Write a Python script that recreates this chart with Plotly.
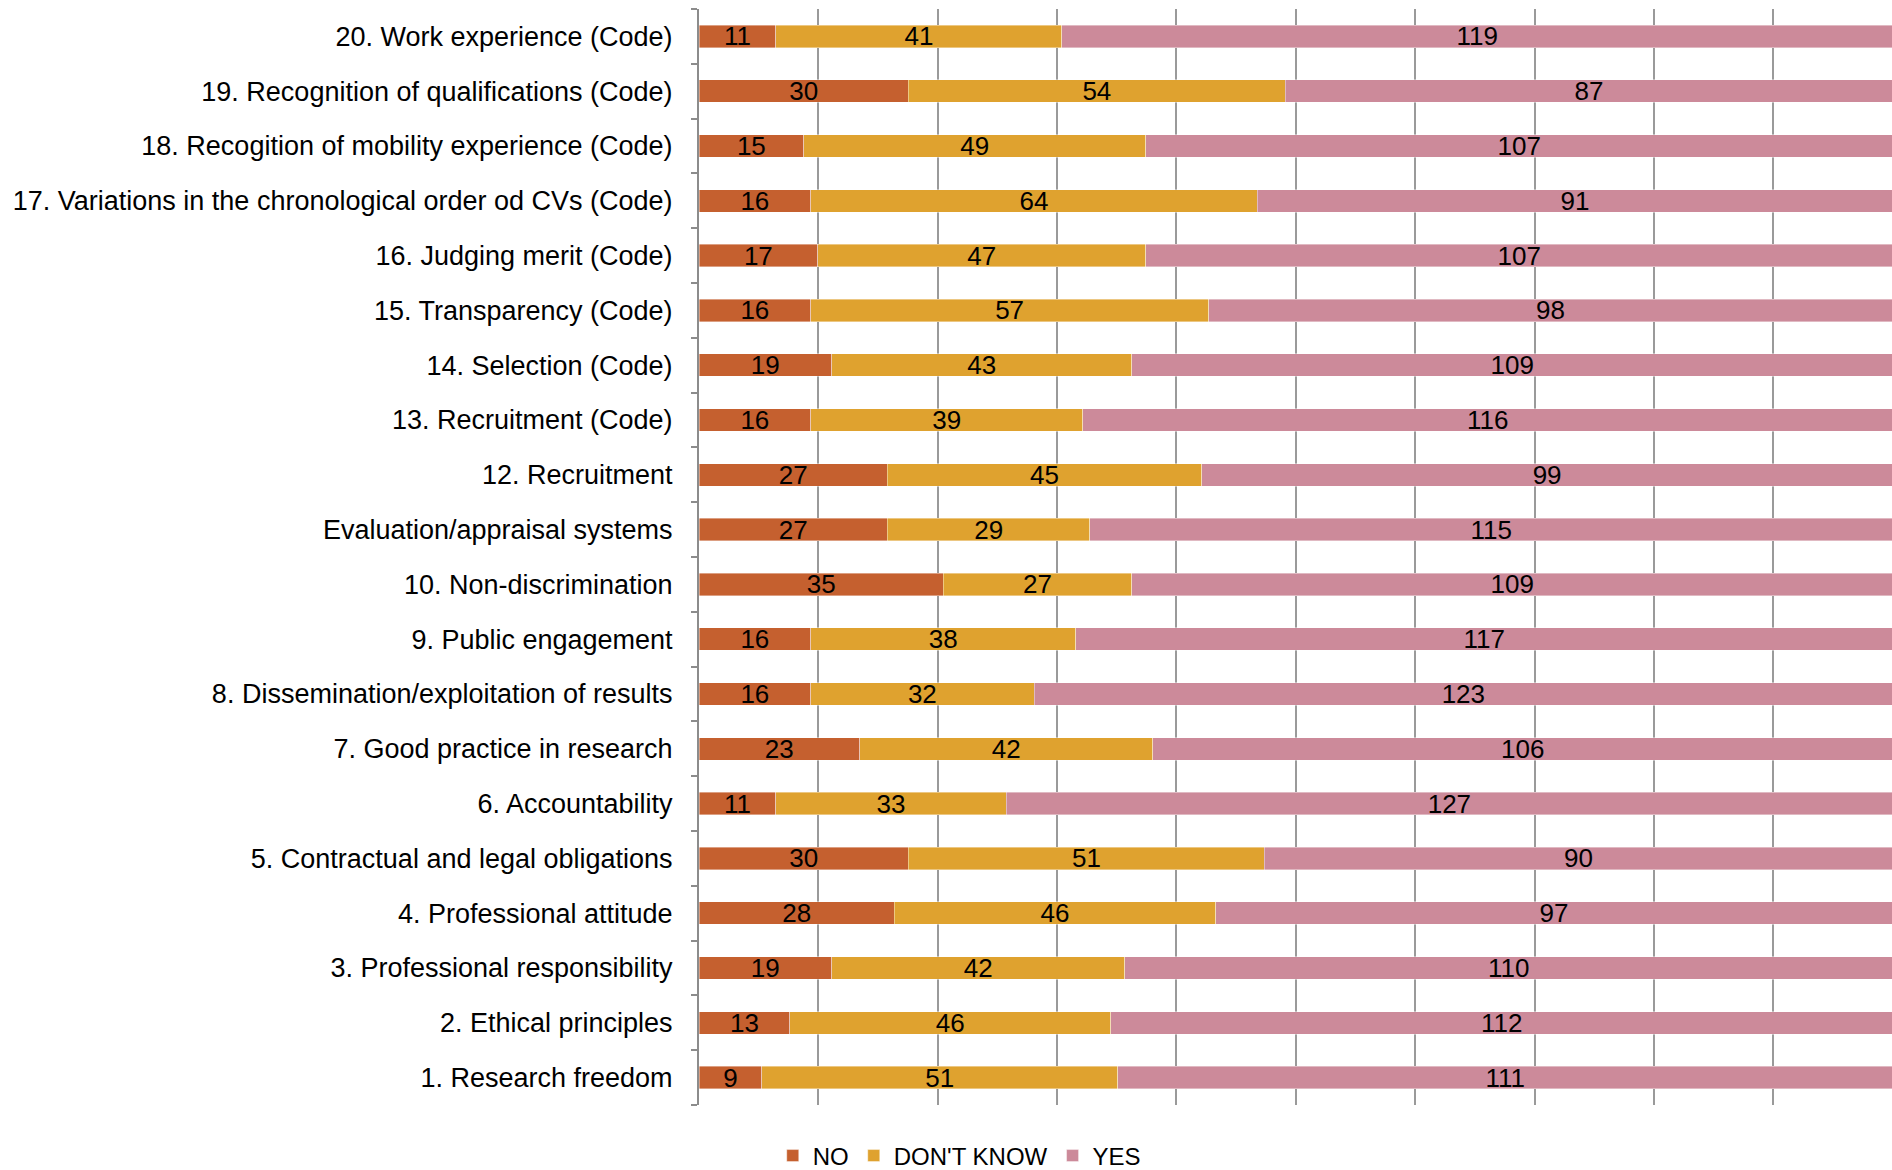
import plotly.graph_objects as go

categories = [
    "1. Research freedom",
    "2. Ethical principles",
    "3. Professional responsibility",
    "4. Professional attitude",
    "5. Contractual and legal obligations",
    "6. Accountability",
    "7. Good practice in research",
    "8. Dissemination/exploitation of results",
    "9. Public engagement",
    "10. Non-discrimination",
    "Evaluation/appraisal systems",
    "12. Recruitment",
    "13. Recruitment (Code)",
    "14. Selection (Code)",
    "15. Transparency (Code)",
    "16. Judging merit (Code)",
    "17. Variations in the chronological order od CVs (Code)",
    "18. Recogition of mobility experience (Code)",
    "19. Recognition of qualifications (Code)",
    "20. Work experience (Code)",
]
no_vals = [9, 13, 19, 28, 30, 11, 23, 16, 16, 35, 27, 27, 16, 19, 16, 17, 16, 15, 30, 11]
dontknow_vals = [51, 46, 42, 46, 51, 33, 42, 32, 38, 27, 29, 45, 39, 43, 57, 47, 64, 49, 54, 41]
yes_vals = [111, 112, 110, 97, 90, 127, 106, 123, 117, 109, 115, 99, 116, 109, 98, 107, 91, 107, 87, 119]

series = [
    ("NO", no_vals, "#C5602F"),
    ("DON'T KNOW", dontknow_vals, "#DFA22F"),
    ("YES", yes_vals, "#CC8A9A"),
]

FONT = "Liberation Sans, Arial, sans-serif"

fig = go.Figure()
for name, vals, color in series:
    fig.add_trace(go.Bar(
        name=name,
        y=categories,
        x=vals,
        orientation="h",
        marker=dict(color=color, line=dict(color="rgba(255,255,255,0.5)", width=0.8)),
        text=[str(v) for v in vals],
        textposition="inside",
        insidetextanchor="middle",
        textangle=0,
        textfont=dict(color="black", size=26, family=FONT),
        hoverinfo="x+y+name",
    ))

fig.update_layout(
    barmode="stack",
    barnorm="percent",
    bargap=0.59,
    width=1892,
    height=1170,
    paper_bgcolor="white",
    plot_bgcolor="white",
    margin=dict(l=699, r=0, t=9, b=65, autoexpand=False),
    font=dict(family=FONT, size=26, color="black"),
    uniformtext=dict(minsize=26, mode="show"),
    showlegend=True,
    legend=dict(
        orientation="h",
        xref="container", yref="container",
        x=0.507, xanchor="center",
        y=0.012, yanchor="middle",
        font=dict(size=24, family=FONT, color="black"),
        traceorder="normal",
        itemwidth=30,
    ),
)
fig.update_xaxes(
    range=[0, 99.95],
    dtick=10,
    tick0=0,
    showgrid=True,
    gridcolor="#9a9a9a",
    gridwidth=2,
    showticklabels=False,
    zeroline=False,
    showline=False,
    ticks="",
    fixedrange=True,
)
fig.update_yaxes(
    categoryorder="array",
    categoryarray=categories,
    showgrid=False,
    showline=True,
    linecolor="#8c8c8c",
    linewidth=2,
    ticks="outside",
    tickson="boundaries",
    ticklen=6,
    tickwidth=2,
    tickcolor="#8c8c8c",
    tickfont=dict(size=27, family=FONT, color="black"),
    ticklabelstandoff=19,
    fixedrange=True,
)

fig.write_html(
    "out.html",
    config={"displayModeBar": False},
    post_script="document.body.style.margin='0';document.body.style.overflow='hidden';",
)
